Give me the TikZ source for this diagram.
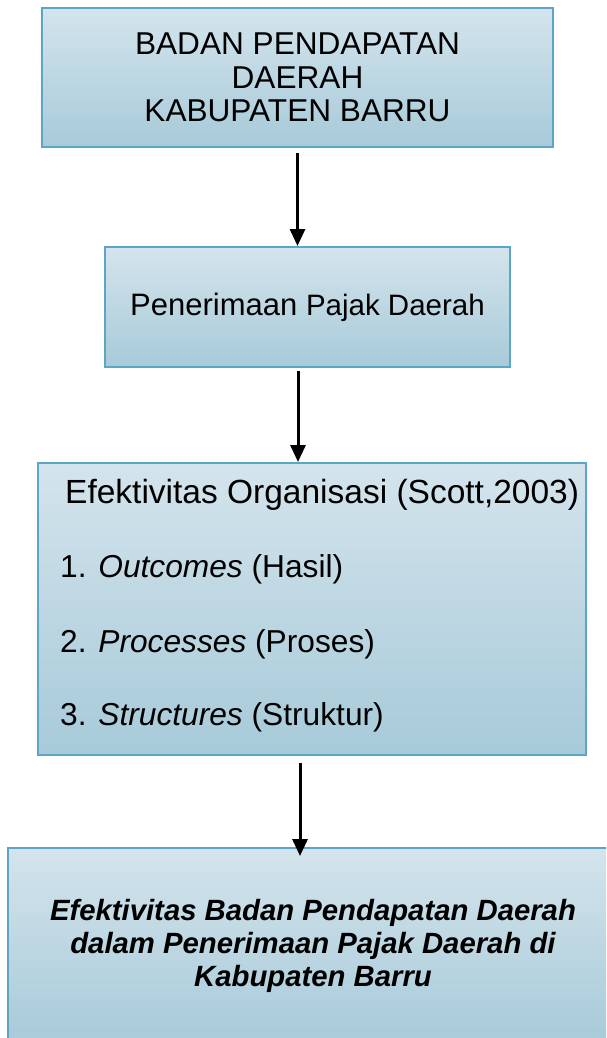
\documentclass[tikz,border=0pt]{standalone}
\usepackage{fontspec}
\setmainfont{Liberation Sans}
\usetikzlibrary{arrows.meta}
\definecolor{atas}{RGB}{212,228,236}
\definecolor{bawah}{RGB}{167,202,217}
\definecolor{garis}{RGB}{92,166,196}
\begin{document}
\begin{tikzpicture}[x=1pt, y=-1pt,
	kotak/.style={draw=garis, line width=2pt, top color=atas, bottom color=bawah, inner sep=0pt, align=center},
	teks/.style={anchor=base west, inner sep=0pt, font=\fontsize{31.7}{36}\selectfont},
	panah/.style={line width=3pt, -{Triangle[length=17pt, width=15pt]}}]
	\useasboundingbox (0,0) rectangle (606,1038);
	\clip (0,0) rectangle (606,1038);
	
	% Kotak Badan Pendapatan
	\node[kotak, minimum width=511pt, minimum height=139pt, font=\fontsize{31.6}{33.5}\selectfont] (badan) at (297.5,77.5) {BADAN PENDAPATAN\\DAERAH\\KABUPATEN BARRU};
	
	% Kotak Penerimaan
	\node[kotak, minimum width=405pt, minimum height=120pt, font=\fontsize{31}{34}\selectfont] (terima) at (307.5,307) {Penerimaan {\fontsize{29.5}{32}\selectfont Pajak Daerah}};
	
	% Kotak Efektivitas Organisasi
	\node[kotak, minimum width=548pt, minimum height=292pt] (organisasi) at (312,609) {};
	\node[teks, font=\fontsize{33.5}{36}\selectfont] (judul) at (65,503) {Efektivitas Organisasi (Scott,2003)};
	\node[teks] (hasil) at (60,577) {1. \textit{Outcomes} (Hasil)};
	\node[teks] (proses) at (60,652) {2. \textit{Processes} (Proses)};
	\node[teks] (struktur) at (60,725) {3. \textit{Structures} (Struktur)};
	
	% Kotak Efektivitas Badan
	\node[kotak, minimum width=610pt, minimum height=196pt, font=\bfseries\itshape\fontsize{29.3}{33}\selectfont] (akhir) at (313,946) {Efektivitas Badan Pendapatan Daerah\\dalam Penerimaan Pajak Daerah di\\Kabupaten Barru};
	
	% Panah
	\draw[panah, shorten <=5pt] (badan.south) -- (badan.south |- terima.north);
	\draw[panah, shorten <=3pt] ([xshift=-9.5pt]terima.south) -- ([xshift=-9.5pt]terima.south |- organisasi.north);
	\draw[panah, shorten <=7pt, shorten >=-9pt] ([xshift=-12pt]organisasi.south) -- ([xshift=-12pt]organisasi.south |- akhir.north);
\end{tikzpicture}
\end{document}
